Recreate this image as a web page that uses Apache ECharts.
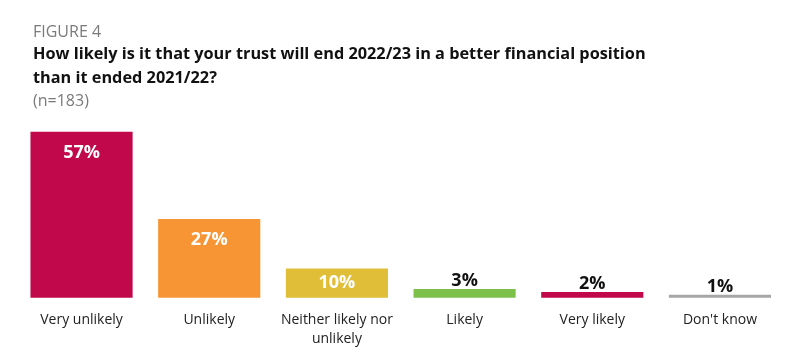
<!DOCTYPE html>
<html><head><meta charset="utf-8">
<script src="https://cdn.jsdelivr.net/npm/echarts@6/dist/echarts.min.js"></script>
<style>html,body{margin:0;padding:0;background:#fff}#c{width:801px;height:356px}</style>
</head><body><div id="c"></div>
<script>
const categories = ['Very unlikely', 'Unlikely', 'Neither likely nor\nunlikely', 'Likely', 'Very likely', "Don't know"];
const values = [57, 27, 10, 3, 2, 1];
const barColors = ['#C0084A', '#F79433', '#E1BE37', '#7DC14B', '#C0084A', '#A6A6A6'];
const FONT = '"Open Sans", "Noto Sans", sans-serif';

const chart = echarts.init(document.getElementById('c'), null, {renderer: 'canvas'});
const data = values.map((v, i) => {
  let label;
  if (v >= 20) label = {position: 'insideTop', distance: 12, color: '#fff'};
  else if (v >= 10) label = {position: 'inside', color: '#fff'};
  else label = {position: 'top', distance: -1, color: '#111'};
  return {value: v, itemStyle: {color: barColors[i]}, label: label};
});
chart.setOption({
  animation: false,
  title: [
    {text: 'FIGURE 4', left: 28, top: 19, textStyle: {fontFamily: FONT, fontSize: 16, fontWeight: 'normal', color: '#7a7a7a'}},
    {text: 'How likely is it that your trust will end 2022/23 in a better financial position\nthan it ended 2021/22?', left: 28, top: 38,
     textStyle: {fontFamily: FONT, fontSize: 16.3, fontWeight: 'bold', color: '#111', lineHeight: 23.5}},
    {text: '(n=183)', left: 28, top: 88, textStyle: {fontFamily: FONT, fontSize: 16, fontWeight: 'normal', color: '#7a7a7a'}}
  ],
  grid: {left: 17.7, right: 17.2, top: 131.7, bottom: 58.3, containLabel: false},
  xAxis: {
    type: 'category', data: categories,
    axisLine: {show: false}, axisTick: {show: false},
    axisLabel: {fontFamily: FONT, fontSize: 14, color: '#222', margin: 13, lineHeight: 19, interval: 0}
  },
  yAxis: {type: 'value', min: 0, max: 57, show: false, splitLine: {show: false}},
  series: [{
    type: 'bar', data: data, barCategoryGap: '20%',
    label: {show: true, formatter: '{c}%', fontFamily: FONT, fontSize: 18, fontWeight: 'bold'}
  }]
});
</script></body></html>
